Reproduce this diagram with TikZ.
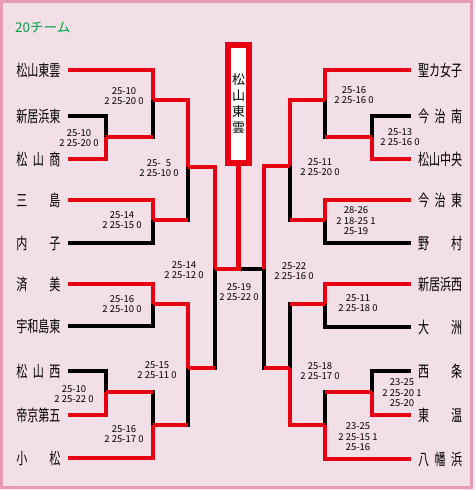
\documentclass[tikz,border=0pt]{standalone}
\usepackage{fontspec}
\usepackage{graphicx}
\newfontfamily\jpfont{Noto Sans CJK JP}
\definecolor{kred}{HTML}{E60012}
\definecolor{kpink}{HTML}{F2DFE7}
\definecolor{kframe}{HTML}{E899B5}
\definecolor{kgreen}{HTML}{00A040}
\newcommand\tname[1]{\scalebox{0.69}[1]{\makebox[64pt][s]{#1}}}
\tikzset{
  win/.style={kred,line width=4.6pt},
  lose/.style={black,line width=4.6pt},
  teamL/.style={anchor=east,inner xsep=7.5pt,inner ysep=0pt,outer sep=0pt,
    font=\jpfont\fontsize{16}{16}\selectfont},
  teamR/.style={teamL,anchor=west,inner xsep=7pt},
  score/.style={align=center,inner sep=0pt,font=\jpfont\fontsize{9.5}{10.5}\selectfont},
}

\begin{document}
\begin{tikzpicture}[x=1pt,y=-1pt]
  % background and frame
  \fill[kpink!60!white] (0,0) rectangle (475,490);
  \draw[kframe,line width=3pt,fill=kpink] (1.5,1.5) rectangle (471.5,487.5);
  \useasboundingbox (0,0) rectangle (475,490);

  \node[anchor=west,inner sep=0pt,text=kgreen,font=\jpfont\fontsize{13.5}{13.5}\selectfont]
    (title) at (15,28) {20チーム};

  % teams
  \foreach \i/\y/\t in {1/70/{松山東雲},2/116/{新居浜東},3/159/{松\hfill 山\hfill 商},
      4/200/{三\hfill 島},5/243/{内\hfill 子},6/284/{済\hfill 美},7/326/{宇和島東},
      8/371/{松\hfill 山\hfill 西},9/415/{帝京第五},10/458/{小\hfill 松}}
    \node[teamL] (l\i) at (68,\y) {\tname{\t}};
  \foreach \i/\y/\t in {1/70/{聖カ女子},2/116/{今\hfill 治\hfill 南},3/159/{松山中央},
      4/200/{今\hfill 治\hfill 東},5/243/{野\hfill 村},6/284/{新居浜西},7/327/{大\hfill 洲},
      8/371/{西\hfill 条},9/415/{東\hfill 温},10/459/{八\hfill 幡\hfill 浜}}
    \node[teamR] (r\i) at (411,\y) {\tname{\t}};

  \node[draw=kred,line width=6pt,fill=white,minimum width=21pt,minimum height=118pt,
    inner sep=0pt,align=center,font=\jpfont\fontsize{13}{16}\selectfont]
    (champ) at (238.5,104) {松\\山\\東\\雲};

  % match points
  \coordinate (L1) at (106,137);  \coordinate (R1) at (372,137);
  \coordinate (L2) at (153,100);  \coordinate (R2) at (325,100);
  \coordinate (L3) at (153,220);  \coordinate (R3) at (325,220);
  \coordinate (L4) at (188,167);  \coordinate (R4) at (290,166);
  \coordinate (L5) at (153,304);  \coordinate (R5) at (325,304);
  \coordinate (L6) at (106,392);  \coordinate (R6) at (372,392);
  \coordinate (L7) at (153,425);  \coordinate (R7) at (325,425);
  \coordinate (L8) at (188,368);  \coordinate (R8) at (290,368);
  \coordinate (L9) at (215,269);  \coordinate (R9) at (264,269);
  \coordinate (F) at (238.5,269);

  % losers
  \foreach \a/\m in {l2/L1,L1/L2,l5/L3,L3/L4,l7/L5,l8/L6,L6/L7,L7/L8,L8/L9,
      r2/R1,R1/R2,r5/R3,R3/R4,r7/R5,r8/R6,R6/R7,R5/R8,R8/R9}
    \draw[lose] (\a) -| (\m);
  \draw[lose] (R9) -- (F);
  \foreach \a/\m in {L1/L2,L3/L4,L6/L7,L7/L8,L8/L9,R1/R2,R3/R4,R6/R7,R5/R8,R8/R9}
    \draw[win] (\a) -- (\a -| \m);

  % winners
  \foreach \a/\m in {l3/L1,l1/L2,l4/L3,L2/L4,l6/L5,l9/L6,l10/L7,L5/L8,L4/L9,
      r3/R1,r1/R2,r4/R3,R2/R4,r6/R5,r9/R6,r10/R7,R7/R8,R4/R9}
    \draw[win] (\a) -| (\m);
  \draw[win] (L9) -- (F) -- (champ.south);

  % scores
  \node[score] (sL1) at (79,138) {25-10\\2 25-20 0};
  \node[score] (sL2) at (124,96) {25-10\\2 25-20 0};
  \node[score] (sL3) at (122,220) {25-14\\2 25-15 0};
  \node[score] (sL4) at (159,168) {25-\hphantom{0}5\\2 25-10 0};
  \node[score] (sL5) at (122,304) {25-16\\2 25-10 0};
  \node[score] (sL6) at (74,394) {25-10\\2 25-22 0};
  \node[score] (sL7) at (124,434) {25-16\\2 25-17 0};
  \node[score] (sL8) at (157,370) {25-15\\2 25-11 0};
  \node[score] (sL9) at (184,270) {25-14\\2 25-12 0};
  \node[score] (sF) at (239,292) {25-19\\2 25-22 0};
  \node[score] (sR1) at (400,137) {25-13\\2 25-16 0};
  \node[score] (sR2) at (354,95) {25-16\\2 25-16 0};
  \node[score] (sR3) at (356,221) {28-26\\2 18-25 1\\25-19};
  \node[score] (sR4) at (320,167) {25-11\\2 25-20 0};
  \node[score] (sR5) at (358,303) {25-11\\2 25-18 0};
  \node[score] (sR6) at (402,393) {23-25\\2 25-20 1\\25-20};
  \node[score] (sR7) at (358,437) {23-25\\2 25-15 1\\25-16};
  \node[score] (sR8) at (320,371) {25-18\\2 25-17 0};
  \node[score] (sR9) at (294,271) {25-22\\2 25-16 0};
\end{tikzpicture}
\end{document}
